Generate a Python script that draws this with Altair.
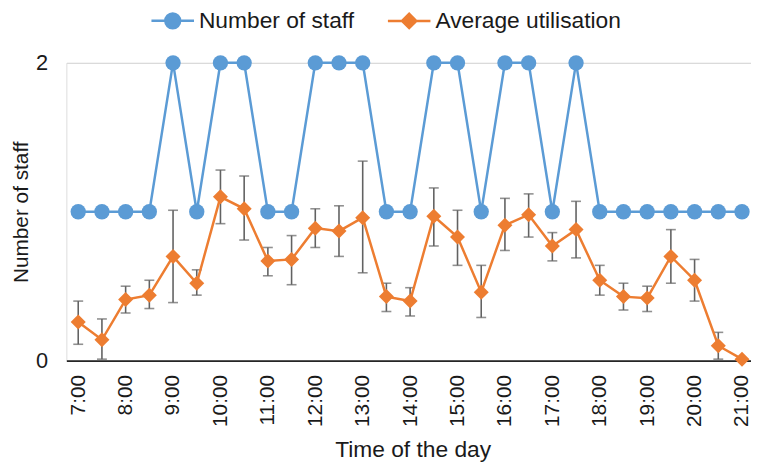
import altair as alt
import pandas as pd

times = ["7:00", "7:30", "8:00", "8:30", "9:00", "9:30", "10:00", "10:30",
         "11:00", "11:30", "12:00", "12:30", "13:00", "13:30", "14:00", "14:30",
         "15:00", "15:30", "16:00", "16:30", "17:00", "17:30", "18:00", "18:30",
         "19:00", "19:30", "20:00", "20:30", "21:00"]
staff = [1, 1, 1, 1, 2, 1, 2, 2, 1, 1, 2, 2, 2, 1, 1, 2, 2, 1, 2, 2, 1, 2, 1, 1, 1, 1, 1, 1, 1]
util = [0.26, 0.14, 0.41, 0.44, 0.70, 0.52, 1.10, 1.02, 0.67, 0.68, 0.89, 0.87, 0.96, 0.43,
        0.40, 0.97, 0.83, 0.46, 0.91, 0.98, 0.77, 0.88, 0.54, 0.43, 0.42, 0.70, 0.54, 0.10, 0.01]
util_hi = [0.40, 0.28, 0.50, 0.54, 1.01, 0.61, 1.28, 1.24, 0.76, 0.84, 1.02, 1.04, 1.34, 0.52,
           0.49, 1.16, 1.01, 0.64, 1.09, 1.12, 0.86, 1.07, 0.64, 0.52, 0.50, 0.88, 0.68, 0.19, 0.01]
util_lo = [0.11, 0.01, 0.32, 0.35, 0.39, 0.44, 0.92, 0.81, 0.57, 0.51, 0.76, 0.70, 0.59, 0.33,
           0.30, 0.77, 0.64, 0.29, 0.74, 0.83, 0.67, 0.69, 0.44, 0.34, 0.33, 0.52, 0.40, 0.01, 0.01]
x_ticks = list(range(7, 22))
y_ticks = [0, 1, 2]
series_names = ["Number of staff", "Average utilisation"]

BLUE = "#5B9BD5"
ORANGE = "#ED7D31"
GREY = "#626262"
TXT = "#1a1a1a"
FONT = "Liberation Sans"

hours = [int(t.split(":")[0]) + int(t.split(":")[1]) / 60 for t in times]
df = pd.DataFrame({"h": hours, "staff": staff, "util": util, "hi": util_hi, "lo": util_lo})
legend_df = pd.DataFrame({"h": [7.0, 7.0], "staff": [-1.0, -1.0], "series": series_names})

xenc = alt.X(
    "h:Q",
    scale=alt.Scale(domain=[6.75, 21.19], nice=False, zero=False),
    title="Time of the day",
    axis=alt.Axis(
        values=x_ticks, labelExpr="datum.value + ':00'", labelAngle=270,
        labelAlign="right", labelBaseline="middle", labelPadding=14,
        labelFontSize=21, labelColor=TXT, labelFont=FONT, labelOverlap=False,
        ticks=False, grid=False, domainColor="#262626", domainWidth=1.6,
        titleFontSize=23, titleFont=FONT, titleColor=TXT, titleFontWeight="normal",
        titleX=350, titleAlign="center", titleY=97, titleBaseline="alphabetic",
    ),
)

yaxis = alt.Axis(
    values=y_ticks, format="d", labelFontSize=22, labelColor=TXT, labelFont=FONT, labelPadding=19,
    ticks=False, domain=False, grid=True, gridColor="#d9d9d9", gridWidth=1,
    titleFontSize=21, titleFont=FONT, titleColor=TXT, titleFontWeight="normal",
    titleX=-39, titleY=150.5, titleAngle=270, titleBaseline="alphabetic", titleAlign="center",
)
yscale = alt.Scale(domain=[0, 2], nice=False, zero=True)


def yenc(field):
    return alt.Y(field, scale=yscale, axis=yaxis, title="Number of staff")


base = alt.Chart(df)

staff_line = base.mark_line(color=BLUE, strokeWidth=2.5).encode(x=xenc, y=yenc("staff:Q"))
staff_pts = base.mark_point(filled=True, shape="circle", size=240, color=BLUE, opacity=1).encode(
    x=xenc, y=yenc("staff:Q"))
err = base.mark_errorbar(
    color=GREY, thickness=1.6,
    ticks={"size": 10, "color": GREY, "strokeWidth": 1.6},
).encode(x=xenc, y=yenc("lo:Q"), y2="hi:Q")
util_line = base.mark_line(color=ORANGE, strokeWidth=2.5).encode(x=xenc, y=yenc("util:Q"))
util_pts = base.mark_point(filled=True, shape="diamond", size=230, color=ORANGE, opacity=1).encode(
    x=xenc, y=yenc("util:Q"))

# legend symbols: line segment with marker (unit = 10px at symbolSize 400)
path_circle = "M-2.15,0L2.15,0M-0.75,0A0.75,0.75,0,1,1,0.75,0A0.75,0.75,0,1,1,-0.75,0Z"
path_diamond = "M-2.15,0L2.15,0M-0.72,0L0,-0.72L0.72,0L0,0.72Z"

leg = alt.Legend(
    title=None, orient="none", direction="horizontal", legendX=96, legendY=-54,
    labelFontSize=23, labelFont=FONT, labelColor=TXT, labelLimit=400, symbolSize=400,
    symbolStrokeWidth=2.5, symbolOpacity=1, labelOffset=15, columnPadding=29,
)
cscale = alt.Scale(domain=series_names, range=[BLUE, ORANGE])
legend_layer = alt.Chart(legend_df).mark_point(filled=True, clip=True, opacity=1).encode(
    x=xenc, y=yenc("staff:Q"),
    fill=alt.Fill("series:N", scale=cscale, legend=leg),
    stroke=alt.Stroke("series:N", scale=cscale, legend=leg),
    shape=alt.Shape("series:N", scale=alt.Scale(domain=series_names, range=[path_circle, path_diamond]), legend=leg),
)

chart = alt.layer(staff_line, staff_pts, err, util_line, util_pts, legend_layer).properties(
    width=692, height=301,
    autosize=alt.AutoSizeParams(type="none"),
    padding={"left": 59, "top": 53, "right": 0, "bottom": 100},
).configure_view(stroke=None).configure(font=FONT)

chart.save("out.html", embed_options={"renderer": "svg", "actions": False})
